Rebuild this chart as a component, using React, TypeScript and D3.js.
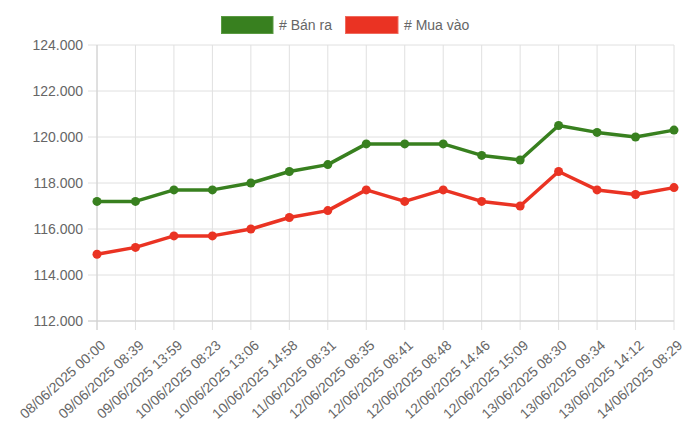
import React from 'react';
import * as d3 from 'd3';

const labels = [
  '08/06/2025 00:00', '09/06/2025 08:39', '09/06/2025 13:59', '10/06/2025 08:23',
  '10/06/2025 13:06', '10/06/2025 14:58', '11/06/2025 08:31', '12/06/2025 08:35',
  '12/06/2025 08:41', '12/06/2025 08:48', '12/06/2025 14:46', '12/06/2025 15:09',
  '13/06/2025 08:30', '13/06/2025 09:34', '13/06/2025 14:12', '14/06/2025 08:29'
];

// values in thousands
const banRa = [117.2, 117.2, 117.7, 117.7, 118.0, 118.5, 118.8, 119.7, 119.7, 119.7, 119.2, 119.0, 120.5, 120.2, 120.0, 120.3];
const muaVao = [114.9, 115.2, 115.7, 115.7, 116.0, 116.5, 116.8, 117.7, 117.2, 117.7, 117.2, 117.0, 118.5, 117.7, 117.5, 117.8];

const yTicks = [112, 114, 116, 118, 120, 122, 124];

const series = [
  { name: '# Bán ra', values: banRa, color: '#38801f', border: '#5a9a42' },
  { name: '# Mua vào', values: muaVao, color: '#ea3323', border: '#f06a5d' }
];

const W = 700;
const H = 440;
const left = 97;
const right = 674;
const top = 45;
const bottom = 321;
const font = 'Helvetica, "Liberation Sans", Arial, sans-serif';

export default function App() {
  const x = d3.scalePoint<string>().domain(labels).range([left, right]);
  const y = d3.scaleLinear().domain([112, 124]).range([bottom, top]);
  const fmt = (v: number) => d3.format('.3f')(v);
  const line = d3.line<number>()
    .x((_, i) => x(labels[i]) as number)
    .y(d => y(d));

  return (
    <svg width={W} height={H} style={{ position: 'absolute', left: 0, top: 0 }}>
      {/* grid */}
      {yTicks.map(t => (
        <line key={'gy' + t} x1={left - 9} x2={right} y1={y(t)} y2={y(t)} stroke="#e0e0e0" strokeWidth={1} />
      ))}
      {labels.map(l => (
        <line key={'gx' + l} x1={x(l)} x2={x(l)} y1={top} y2={bottom + 9} stroke="#e0e0e0" strokeWidth={1} />
      ))}
      <line x1={left} x2={left} y1={top} y2={bottom + 9} stroke="#d0d0d0" />
      <line x1={left - 9} x2={right} y1={bottom} y2={bottom} stroke="#d0d0d0" />

      {/* y labels */}
      {yTicks.map(t => (
        <text key={'ty' + t} x={left - 14} y={y(t)} dy="0.35em" textAnchor="end"
          fontFamily={font} fontSize={14} fill="#666">{fmt(t)}</text>
      ))}

      {/* x labels */}
      {labels.map(l => (
        <text key={'tx' + l} transform={`translate(${(x(l) as number) + 6},${bottom + 22}) rotate(-42)`}
          textAnchor="end" dy="0.35em" fontFamily={font} fontSize={14} fill="#666">{l}</text>
      ))}

      {/* lines */}
      {series.map(s => (
        <g key={s.name}>
          <path d={line(s.values) || ''} fill="none" stroke={s.color} strokeWidth={3.5} strokeLinejoin="round" />
          {s.values.map((v, i) => (
            <circle key={i} cx={x(labels[i])} cy={y(v)} r={4.5} fill={s.color} />
          ))}
        </g>
      ))}

      {/* legend */}
      <rect x={221.5} y={16.5} width={51.5} height={17} fill={series[0].color} stroke={series[0].border} />
      <text x={279} y={25} dy="0.35em" fontFamily={font} fontSize={14} fill="#666">{series[0].name}</text>
      <rect x={345.5} y={16.5} width={52.5} height={17} fill={series[1].color} stroke={series[1].border} />
      <text x={404} y={25} dy="0.35em" fontFamily={font} fontSize={14} fill="#666">{series[1].name}</text>
    </svg>
  );
}
